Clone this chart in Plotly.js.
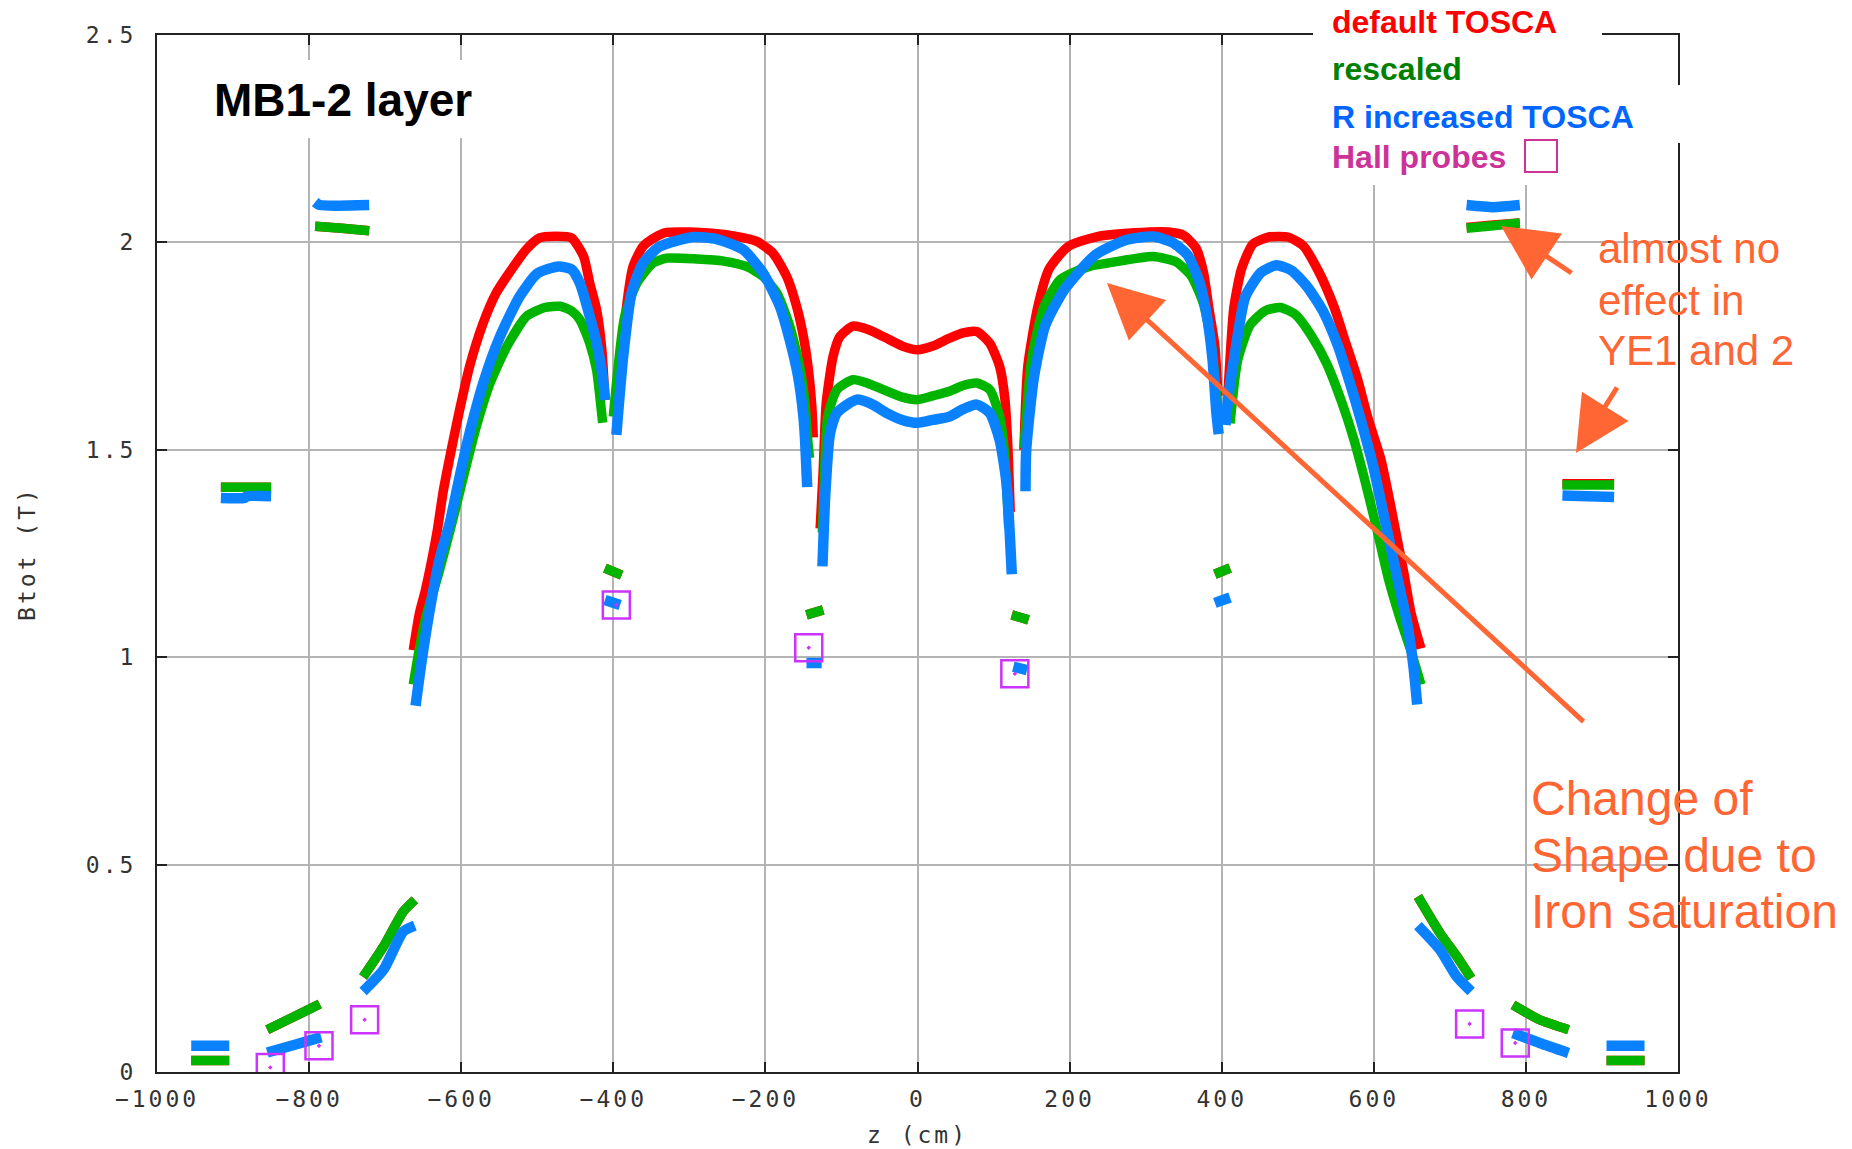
<!DOCTYPE html>
<html><head><meta charset="utf-8">
<script src="https://cdn.plot.ly/plotly-3.0.1.min.js"></script>
<style>
html,body{margin:0;padding:0;background:#fff;}
#chart{width:1852px;height:1149px;}
.xtick text,.ytick text,text.xtitle,text.ytitle{letter-spacing:3px;}
</style></head><body><div id="chart"></div>
<script>
// ---- data: [z (cm), Btot (T)], null breaks a segment ----
const defaultTosca = [
  [-955,0.028],[-905,0.028],null,
  [-916,1.410],[-850,1.410],null,
  [-855,0.102],[-820,0.133],[-786,0.164],null,
  [-792,2.039],[-757,2.034],[-721,2.028],null,
  [-729,0.229],[-702,0.303],[-676,0.387],[-661,0.415],null,
  [-663,1.017],[-655,1.105],[-647,1.162],[-632,1.299],[-624,1.396],[-613,1.500],[-602,1.597],[-589,1.701],[-571,1.806],[-554,1.878],[-534,1.934],[-515,1.982],[-497,2.011],[-476,2.015],[-455,2.011],[-439,1.966],[-431,1.902],[-422,1.838],[-415,1.740],[-411,1.620],null,
  [-411,1.215],[-389,1.198],null,
  [-393,1.630],[-391,1.661],[-383,1.838],[-374,1.942],[-361,1.990],[-345,2.012],[-330,2.024],[-300,2.025],[-270,2.022],[-240,2.015],[-212,2.003],[-190,1.974],[-172,1.918],[-159,1.846],[-150,1.773],[-144,1.701],[-139,1.605],[-137,1.530],null,
  [-146,1.102],[-124,1.114],null,
  [-128,1.310],[-124,1.450],[-120,1.613],[-111,1.725],[-102,1.773],[-85,1.798],[-65,1.790],[-45,1.773],[-20,1.750],[0,1.741],[20,1.750],[42,1.769],[60,1.782],[78,1.785],[95,1.757],[108,1.701],[115,1.621],[119,1.500],[122,1.350],null,
  [124,1.102],[146,1.090],null,
  [140,1.500],[145,1.700],[158,1.843],[173,1.936],[198,1.990],[234,2.013],[285,2.023],[330,2.025],[350,2.017],[366,1.987],[376,1.928],[383,1.843],[391,1.750],[395,1.630],null,
  [391,1.200],[411,1.215],null,
  [408,1.631],[412,1.750],[416,1.843],[426,1.936],[441,1.996],[462,2.013],[487,2.013],[507,1.992],[528,1.928],[548,1.843],[563,1.758],[578,1.674],[593,1.572],[609,1.479],[619,1.394],[629,1.301],[639,1.208],[649,1.106],[662,1.021],null,
  [658,0.423],[687,0.335],[709,0.279],[728,0.226],null,
  [722,2.036],[757,2.042],[792,2.047],null,
  [783,0.162],[818,0.126],[856,0.102],null,
  [848,1.418],[916,1.418],null,
  [906,0.028],[956,0.028]
];
const rescaled = [
  [-955,0.028],[-905,0.028],null,
  [-916,1.410],[-850,1.410],null,
  [-855,0.102],[-820,0.133],[-786,0.164],null,
  [-792,2.039],[-757,2.034],[-721,2.028],null,
  [-729,0.229],[-702,0.303],[-676,0.387],[-661,0.415],null,
  [-663,0.934],[-655,1.020],[-646,1.100],[-630,1.200],[-610,1.339],[-597,1.436],[-580,1.557],[-562,1.661],[-540,1.749],[-514,1.822],[-490,1.843],[-470,1.846],[-455,1.835],[-444,1.814],[-431,1.757],[-422,1.693],[-416,1.600],[-414,1.565],null,
  [-411,1.215],[-389,1.198],null,
  [-400,1.580],[-385,1.822],[-369,1.902],[-348,1.950],[-330,1.962],[-290,1.960],[-255,1.955],[-225,1.942],[-203,1.918],[-185,1.878],[-168,1.798],[-155,1.701],[-148,1.613],[-144,1.516],[-142,1.480],null,
  [-146,1.102],[-124,1.114],null,
  [-125,1.300],[-121,1.500],[-118,1.580],[-106,1.645],[-85,1.669],[-65,1.660],[-45,1.645],[-20,1.627],[0,1.621],[20,1.630],[42,1.641],[60,1.655],[78,1.661],[95,1.645],[108,1.580],[114,1.500],[120,1.310],null,
  [124,1.102],[146,1.090],null,
  [140,1.504],[150,1.716],[166,1.843],[188,1.911],[224,1.941],[259,1.953],[310,1.966],[340,1.953],[360,1.919],[376,1.852],[386,1.758],[391,1.674],[396,1.580],null,
  [391,1.200],[411,1.215],null,
  [411,1.564],[421,1.716],[437,1.800],[457,1.835],[477,1.843],[497,1.826],[518,1.775],[538,1.708],[558,1.614],[573,1.530],[588,1.428],[604,1.309],[619,1.191],[634,1.097],[648,1.020],[662,0.934],null,
  [658,0.423],[687,0.335],[709,0.279],[728,0.226],null,
  [722,2.034],[757,2.040],[792,2.047],null,
  [783,0.162],[818,0.126],[856,0.102],null,
  [848,1.415],[916,1.415],null,
  [906,0.028],[956,0.028]
];
const rIncreasedTosca = [
  [-955,0.063],[-905,0.063],null,
  [-916,1.384],[-885,1.384],[-882,1.388],[-850,1.388],null,
  [-855,0.047],[-820,0.065],[-784,0.084],null,
  [-792,2.097],[-786,2.090],[-721,2.090],null,
  [-729,0.194],[-702,0.247],[-676,0.339],[-661,0.353],null,
  [-660,0.883],[-652,0.991],[-640,1.128],[-628,1.240],[-615,1.324],[-602,1.436],[-589,1.540],[-571,1.661],[-549,1.773],[-523,1.870],[-500,1.925],[-472,1.942],[-455,1.935],[-444,1.902],[-431,1.822],[-420,1.741],[-413,1.661],[-411,1.620],null,
  [-411,1.138],[-391,1.126],null,
  [-396,1.536],[-387,1.725],[-376,1.878],[-361,1.950],[-339,1.990],[-295,2.013],[-264,2.008],[-229,1.982],[-203,1.926],[-181,1.846],[-168,1.765],[-157,1.677],[-150,1.580],[-148,1.530],[-146,1.450],[-145,1.410],null,
  [-146,0.986],[-126,0.986],null,
  [-125,1.219],[-121,1.400],[-115,1.540],[-106,1.589],[-80,1.621],[-60,1.610],[-41,1.589],[-20,1.572],[0,1.565],[20,1.572],[42,1.580],[60,1.598],[78,1.609],[95,1.589],[108,1.524],[117,1.420],[124,1.200],null,
  [126,0.977],[144,0.969],null,
  [142,1.400],[143,1.500],[153,1.674],[168,1.800],[193,1.886],[234,1.970],[274,2.006],[310,2.014],[335,2.000],[355,1.970],[371,1.903],[381,1.818],[388,1.716],[393,1.589],[396,1.538],null,
  [391,1.131],[411,1.144],null,
  [405,1.560],[409,1.631],[416,1.716],[431,1.869],[452,1.928],[472,1.945],[492,1.932],[512,1.894],[533,1.835],[553,1.750],[568,1.665],[583,1.572],[599,1.462],[614,1.335],[629,1.208],[644,1.081],[652,0.980],[657,0.886],null,
  [658,0.353],[687,0.295],[709,0.230],[728,0.194],null,
  [722,2.090],[757,2.085],[792,2.090],null,
  [783,0.094],[818,0.070],[856,0.046],null,
  [848,1.390],[916,1.386],null,
  [906,0.063],[956,0.063]
];
const hallProbes = [
  [-851,0.011],[-787,0.063],[-727,0.126],[-396,1.126],[-143,1.023],[128,0.960],[726,0.116],[786,0.070]
];
const xTickVals = [-1000,-800,-600,-400,-200,0,200,400,600,800,1000];
const yTickVals = [0,0.5,1,1.5,2,2.5];
const yTickText = ['0','0.5','1','1.5','2','2.5'];
const legendLabels = ['default TOSCA','rescaled','R increased TOSCA','Hall probes'];
const noteYE = ['almost no','effect in','YE1 and 2'];
const noteIron = ['Change of','Shape due to','Iron saturation'];

// ---- helpers ----
const xs = a => a.map(p => p ? p[0] : null);
const ys = a => a.map(p => p ? p[1] : null);
const L = 157, T = 35, W = 1521, H = 1037;
const px = x => (x - L) / W;
const py = y => (T + H - y) / H;

const RED = '#ff0000', GREEN = '#00b400', BLUE = '#0a82ff', HALL = '#cc33ff', ORANGE = '#ff6633';

function band(data, color, width, name){
  return {type:'scatter', mode:'lines', name:name, x:xs(data), y:ys(data),
    connectgaps:false, line:{color:color, width:width, shape:'spline', smoothing:0.6}, hoverinfo:'skip'};
}
const traces = [
  band(defaultTosca, RED, 9.5, legendLabels[0]),
  band(rescaled, GREEN, 9.5, legendLabels[1]),
  band(rIncreasedTosca, BLUE, 10.5, legendLabels[2]),
  {type:'scatter', mode:'markers', name:legendLabels[3], x:xs(hallProbes), y:ys(hallProbes),
   marker:{symbol:'square-open-dot', size:27, color:HALL, line:{width:2.5, color:HALL}}, hoverinfo:'skip'}
];

const tickFont = {family:'DejaVu Sans Mono, monospace', size:23, color:'#333'};
const axisCommon = {showgrid:true, gridcolor:'#b4b4b4', gridwidth:2, zeroline:false,
  showline:true, linecolor:'#222', linewidth:2, mirror:'ticks',
  ticks:'inside', ticklen:10, tickwidth:2, tickcolor:'#222', tickfont:tickFont};

const ann = [];
// chart label
ann.push({xref:'paper', yref:'paper', x:px(212), y:py(100), xanchor:'left', yanchor:'middle',
  text:'MB1-2 layer', showarrow:false, font:{family:'Liberation Sans, Arial, sans-serif', size:46, color:'#000', weight:'bold'}});
// legend texts
const legColors = [RED, '#008000', '#0066ff', '#cc3399'];
const legY = [22, 69, 117, 157];
legendLabels.forEach((t,i) => ann.push({xref:'paper', yref:'paper', x:px(1330), y:py(legY[i]),
  xanchor:'left', yanchor:'middle', text:t, showarrow:false,
  font:{family:'Liberation Sans, Arial, sans-serif', size:32, color:legColors[i], weight:'bold'}}));
// notes
const ye = [249, 300, 350];
noteYE.forEach((t,i) => ann.push({xref:'paper', yref:'paper', x:px(1596), y:py(ye[i]), xanchor:'left', yanchor:'middle',
  text:t, showarrow:false, font:{family:'Liberation Sans, Arial, sans-serif', size:42, color:ORANGE}}));
const ir = [798, 855, 911];
noteIron.forEach((t,i) => ann.push({xref:'paper', yref:'paper', x:px(1529), y:py(ir[i]), xanchor:'left', yanchor:'middle',
  text:t, showarrow:false, font:{family:'Liberation Sans, Arial, sans-serif', size:48, color:ORANGE}}));
// arrows: [head x, head y, tail x, tail y] in pixels
const arrows = [[1107,283,1585,723],[1501,226,1573,274],[1576,453,1618,386]];
arrows.forEach(a => ann.push({xref:'paper', yref:'paper', x:px(a[0]), y:py(a[1]), text:'', showarrow:true,
  ax:a[2]-a[0], ay:a[3]-a[1], arrowhead:2, arrowsize:2.2, arrowwidth:5, arrowcolor:ORANGE, standoff:0, startstandoff:0}));

const shapes = [
  {type:'rect', xref:'paper', yref:'paper', layer:'above', x0:px(205), x1:px(492), y0:py(60), y1:py(138), fillcolor:'#fff', line:{width:0}},
  {type:'rect', xref:'paper', yref:'paper', layer:'above', x0:px(1313), x1:px(1602), y0:py(0), y1:py(185), fillcolor:'#fff', line:{width:0}},
  {type:'rect', xref:'paper', yref:'paper', layer:'above', x0:px(1313), x1:px(1700), y0:py(85), y1:py(143), fillcolor:'#fff', line:{width:0}},
  {type:'rect', xref:'paper', yref:'paper', layer:'above', x0:px(1525), x1:px(1557), y0:py(140), y1:py(172), fillcolor:'rgba(0,0,0,0)', line:{width:2, color:'#cc3399'}}
];

const layout = {
  width:1852, height:1149, paper_bgcolor:'#fff', plot_bgcolor:'#fff', showlegend:false,
  margin:{l:L, r:1852-L-W, t:T, b:1149-T-H, pad:0},
  xaxis:Object.assign({}, axisCommon, {range:[-1000,1000], tickvals:xTickVals, ticklabelstandoff:5,
    title:{text:'z (cm)', font:{family:'DejaVu Sans Mono, monospace', size:23, color:'#333'}, standoff:16}}),
  yaxis:Object.assign({}, axisCommon, {range:[0,2.5], tickvals:yTickVals, ticktext:yTickText, ticklabelstandoff:14,
    title:{text:'Btot (T)', font:{family:'DejaVu Sans Mono, monospace', size:23, color:'#333'}, standoff:44}}),
  annotations:ann, shapes:shapes
};
Plotly.newPlot('chart', traces, layout, {displayModeBar:false, staticPlot:true});
</script></body></html>
